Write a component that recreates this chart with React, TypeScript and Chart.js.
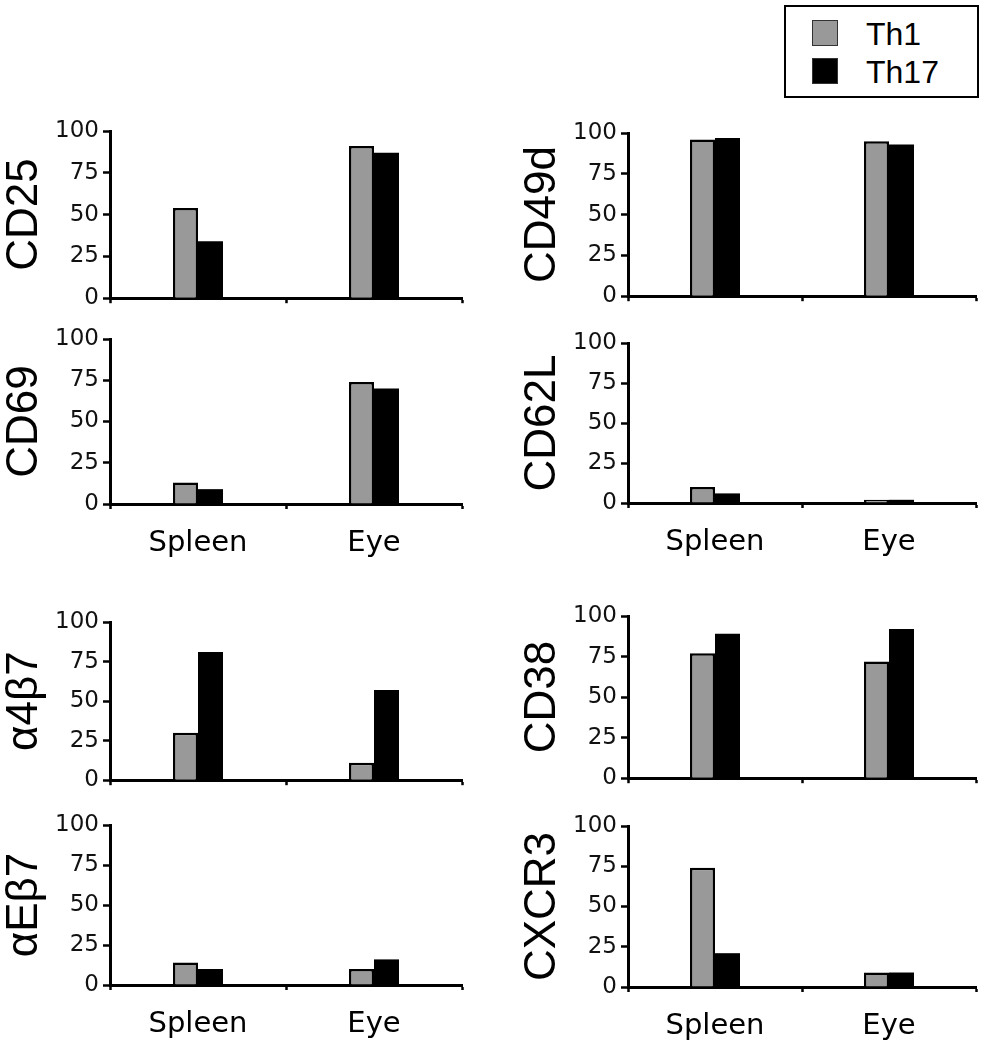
import React, { useEffect, useRef } from "react";
import { Chart, registerables } from "chart.js";

Chart.register(...registerables);

const categories = ["Spleen", "Eye"];
const seriesNames = ["Th1", "Th17"];
const yTickValues = [0, 25, 50, 75, 100];

const cd25Th1 = [54, 91];
const cd25Th17 = [34, 87];
const cd69Th1 = [13, 74];
const cd69Th17 = [9, 70];
const cd49dTh1 = [96, 95];
const cd49dTh17 = [97, 93];
const cd62lTh1 = [10, 2];
const cd62lTh17 = [6, 2];
const a4b7Th1 = [30, 11];
const a4b7Th17 = [81, 57];
const aEb7Th1 = [14, 10];
const aEb7Th17 = [10, 16];
const cd38Th1 = [77, 72];
const cd38Th17 = [89, 92];
const cxcr3Th1 = [74, 9];
const cxcr3Th17 = [21, 9];

const GRAY = "#999999";
const BLACK = "#000000";

const Y_AXIS_W = 110;
const PAD_TOP = 20;
const PAD_RIGHT = 12;
const GROUP_W = 50;

type PanelProps = {
  title: string;
  th1: number[];
  th17: number[];
  showLabels: boolean;
  axisX: number;
  xEnd: number;
  yTop: number;
  yBot: number;
};

function Panel({ title, th1, th17, showLabels, axisX, xEnd, yTop, yBot }: PanelProps) {
  const ref = useRef<HTMLCanvasElement | null>(null);
  const xH = showLabels ? 60 : 16;
  const left = axisX - Y_AXIS_W;
  const top = yTop - PAD_TOP;
  const w = xEnd - left + PAD_RIGHT;
  const h = yBot - yTop + PAD_TOP + xH;
  const catPct = GROUP_W / ((xEnd - axisX) / categories.length);

  useEffect(() => {
    if (!ref.current) return;
    const chart = new Chart(ref.current, {
      type: "bar",
      data: {
        labels: categories,
        datasets: [
          {
            label: seriesNames[0],
            data: th1,
            backgroundColor: GRAY,
            borderColor: BLACK,
            borderWidth: 2.5,
            barPercentage: 1,
            categoryPercentage: catPct,
          },
          {
            label: seriesNames[1],
            data: th17,
            backgroundColor: BLACK,
            borderColor: BLACK,
            borderWidth: 0,
            barPercentage: 1,
            categoryPercentage: catPct,
          },
        ],
      },
      options: {
        responsive: false,
        maintainAspectRatio: false,
        animation: false,
        devicePixelRatio: 1,
        layout: { padding: { top: PAD_TOP, right: PAD_RIGHT, left: 0, bottom: 0 } },
        plugins: {
          legend: { display: false },
          tooltip: { enabled: false },
        },
        scales: {
          x: {
            afterFit: (s: any) => {
              s.height = xH;
            },
            border: { display: true, color: "#000", width: 3 },
            grid: {
              display: true,
              drawOnChartArea: false,
              drawTicks: true,
              tickLength: 5,
              color: "#000",
              tickWidth: 2.5,
              offset: true,
            },
            ticks: {
              display: showLabels,
              font: { family: "DejaVu Sans", size: 29 },
              color: "#000",
              padding: 17,
            },
          },
          y: {
            min: 0,
            max: 100,
            afterBuildTicks: (s: any) => {
              s.ticks = yTickValues.map((v) => ({ value: v }));
            },
            afterFit: (s: any) => {
              s.width = Y_AXIS_W;
            },
            border: { display: true, color: "#000", width: 3 },
            grid: {
              display: true,
              drawOnChartArea: false,
              drawTicks: true,
              tickLength: 7,
              color: "#000",
              tickWidth: 2.5,
            },
            ticks: {
              font: { family: "DejaVu Sans", size: 23 },
              color: "#111",
              padding: 4,
            },
            title: {
              display: true,
              text: title,
              font: { family: "Liberation Sans", size: 44, lineHeight: 1.15 },
              color: "#000",
              padding: 0,
            },
          },
        },
      },
    });
    return () => chart.destroy();
  }, []);

  return (
    <canvas
      ref={ref}
      width={w}
      height={h}
      style={{ position: "absolute", left, top, width: w, height: h }}
    />
  );
}

function Legend() {
  const sw = (color: string, top: number) => (
    <div
      style={{
        position: "absolute",
        left: 26,
        top,
        width: 26,
        height: 26,
        background: color,
        border: "1.5px solid #333",
        boxSizing: "border-box",
      }}
    />
  );
  const txt = (t: string, top: number) => (
    <div
      style={{
        position: "absolute",
        left: 80,
        top,
        height: 36,
        lineHeight: "36px",
        fontFamily: "Liberation Sans, Arial, sans-serif",
        fontSize: 32,
        color: "#000",
      }}
    >
      {t}
    </div>
  );
  return (
    <div
      style={{
        position: "absolute",
        left: 784,
        top: 5,
        width: 195,
        height: 93,
        border: "2px solid #000",
        boxSizing: "border-box",
        background: "#fff",
      }}
    >
      {sw(GRAY, 13)}
      {txt(seriesNames[0], 9)}
      {sw(BLACK, 51)}
      {txt(seriesNames[1], 47)}
    </div>
  );
}

export default function App() {
  const L = { axisX: 110, xEnd: 462 };
  const R = { axisX: 628, xEnd: 976 };
  return (
    <div
      style={{
        position: "absolute",
        left: 0,
        top: 0,
        width: 989,
        height: 1050,
        background: "#fff",
        overflow: "hidden",
      }}
    >
      <Panel title="CD25" th1={cd25Th1} th17={cd25Th17} showLabels={false} {...L} yTop={131} yBot={300} />
      <Panel title="CD69" th1={cd69Th1} th17={cd69Th17} showLabels={true} {...L} yTop={339} yBot={504} />
      <Panel title="CD49d" th1={cd49dTh1} th17={cd49dTh17} showLabels={false} {...R} yTop={133} yBot={298} />
      <Panel title="CD62L" th1={cd62lTh1} th17={cd62lTh17} showLabels={true} {...R} yTop={343} yBot={503} />
      <Panel title="α4β7" th1={a4b7Th1} th17={a4b7Th17} showLabels={false} {...L} yTop={622} yBot={782} />
      <Panel title="αEβ7" th1={aEb7Th1} th17={aEb7Th17} showLabels={true} {...L} yTop={825} yBot={985} />
      <Panel title="CD38" th1={cd38Th1} th17={cd38Th17} showLabels={false} {...R} yTop={616} yBot={780} />
      <Panel title="CXCR3" th1={cxcr3Th1} th17={cxcr3Th17} showLabels={true} {...R} yTop={826} yBot={987} />
      <Legend />
    </div>
  );
}
